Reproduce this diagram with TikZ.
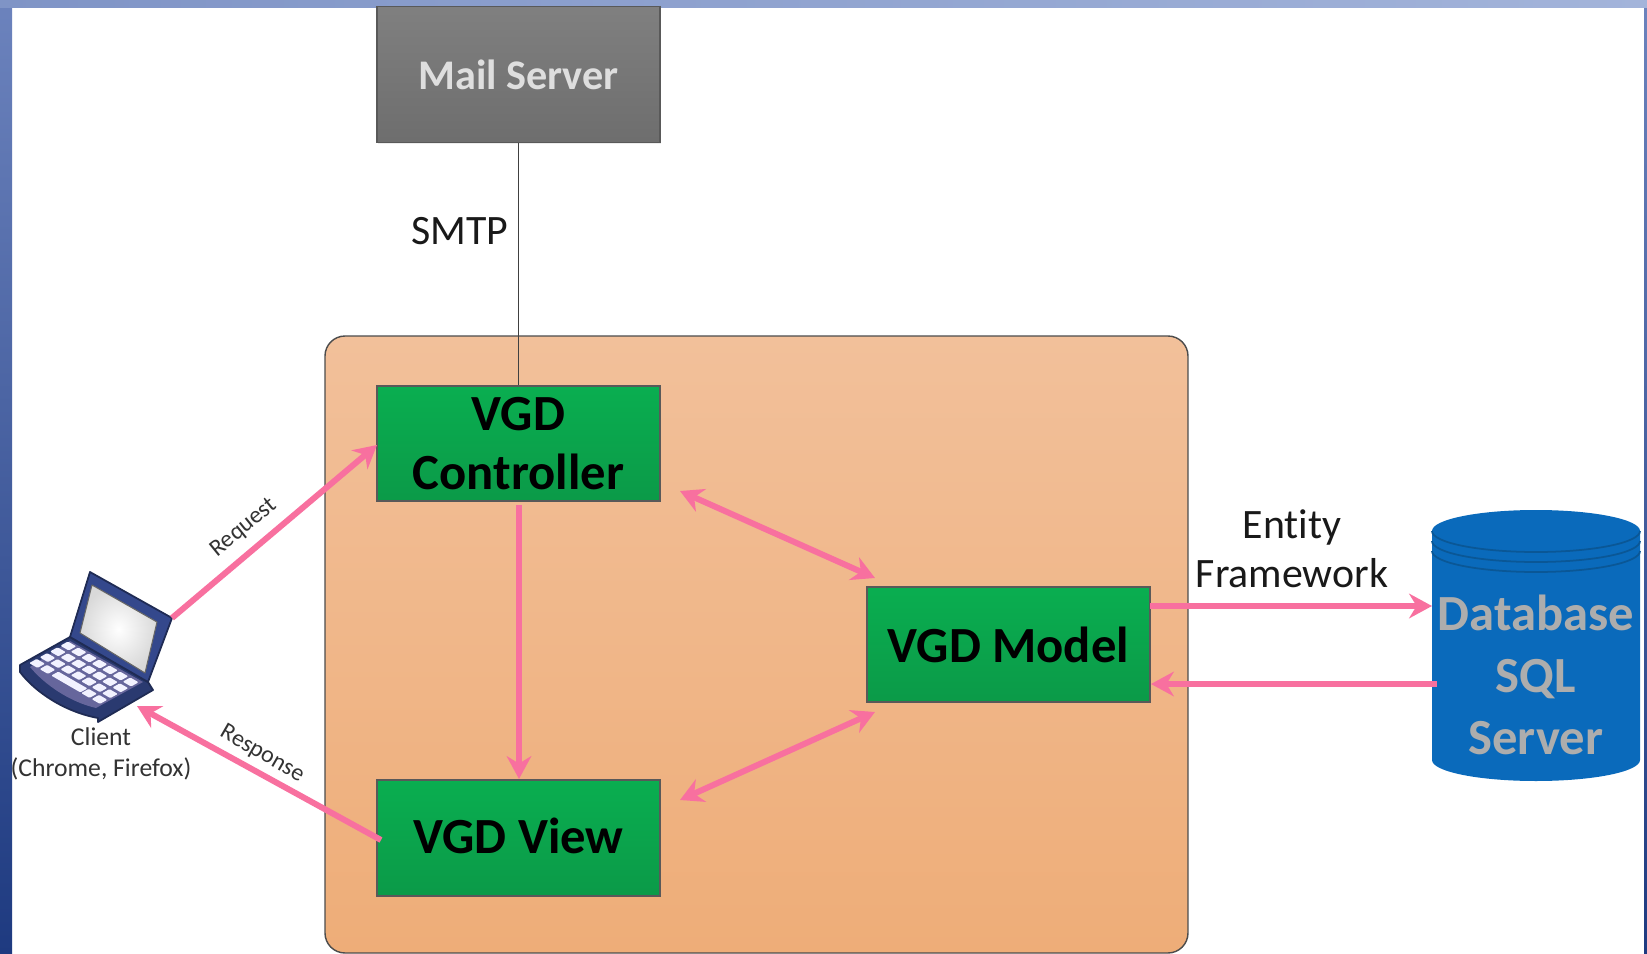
\documentclass[tikz,border=0pt]{standalone}
\usepackage{fontspec}
\setmainfont{Carlito}[Ligatures=NoCommon]
\usetikzlibrary{arrows.meta,shadows}
\definecolor{linkpink}{HTML}{F8709F}
\definecolor{greentop}{HTML}{0AAE50}
\definecolor{greenlow}{HTML}{0B9A48}
\definecolor{lapblue}{HTML}{34488C}
\definecolor{dbblue}{HTML}{0A6ABB}
\definecolor{dbedge}{HTML}{0A5796}
\definecolor{peachtop}{HTML}{F2C09A}
\definecolor{peachlow}{HTML}{EEAD78}
\definecolor{framehigh}{HTML}{6C83BD}
\definecolor{framelow}{HTML}{1E3A80}
\definecolor{stripleft}{HTML}{7F94C6}
\definecolor{stripright}{HTML}{A3B4DA}
\tikzset{
        unitbox/.style={draw=black!65, line width=0.5pt, minimum width=2.83cm, minimum height=1.16cm, inner sep=0pt, align=center,
                top color=greentop, bottom color=greenlow, drop shadow={opacity=0.15, shadow xshift=0.4pt, shadow yshift=-0.4pt},
                font=\fontsize{14.4}{16.8}\selectfont\bfseries},
        link/.style={linkpink, line width=1.7pt, -{Stealth[length=6.5pt,width=7pt]}},
        duallink/.style={link, {Stealth[length=6.5pt,width=7pt]}-{Stealth[length=6.5pt,width=7pt]}},
        tag/.style={font=\fontsize{11.9}{14}\selectfont, align=center, text=black!90},
        smalltag/.style={font=\fontsize{7.3}{8}\selectfont, text=black!80},
        keycap/.style={fill=blue!5!white, rounded corners=0.3pt},
}
\begin{document}
\begin{tikzpicture}[x=0.01cm, y=-0.01cm]
        \useasboundingbox (0,0) rectangle (1647,954);
        \fill[white] (0,0) rectangle (1647,954);
        \shade[top color=framehigh, bottom color=framelow] (0,0) rectangle (12,954);
        \shade[top color=framehigh, bottom color=framelow] (1644,0) rectangle (1647,954);
        \shade[left color=stripleft, right color=stripright] (0,0) rectangle (1647,7);

        \draw[draw=black!70, line width=0.4pt, rounded corners=0.2cm, top color=peachtop, bottom color=peachlow] (325,336) rectangle (1188,953);

        \node[unitbox, top color=black!50, bottom color=black!57, minimum height=1.36cm, font=\fontsize{12}{14}\selectfont\bfseries, text=black!13] (mail) at (518.5,74.5) {Mail Server};
        \node[unitbox, minimum height=1.15cm] (controller) at (518.5,443.5) {VGD\\Controller};
        \node[unitbox] (view) at (518.5,838) {\raisebox{1.5pt}{VGD View}};
        \node[unitbox, minimum height=1.15cm] (model) at (1008.5,644.5) {VGD Model};

        \fill[dbblue] (1432,531) arc[start angle=180, end angle=360, x radius=104, y radius=21] -- (1640,760) arc[start angle=0, end angle=180, x radius=104, y radius=21] -- cycle;
        \draw[dbedge, line width=0.5pt] (1432,531) arc[start angle=180, end angle=0, x radius=104, y radius=21]
                (1432,541) arc[start angle=180, end angle=0, x radius=104, y radius=21]
                (1432,551) arc[start angle=180, end angle=0, x radius=104, y radius=21];
        \node[font=\fontsize{14.4}{17.6}\selectfont\bfseries, text=black!32, align=center, inner sep=0pt, minimum width=2.08cm, minimum height=1.9cm] (db) at (1536,675) {Database\\SQL\\Server};

        \begin{scope}[line join=round]
                \fill[lapblue!80!black, draw=lapblue!60!black, line width=0.5pt] (20,665) -- (70,637) -- (148,682) -- (153,690) -- (98,722) -- (98,718) .. controls (65,712) and (35,692) .. (20,672) -- cycle;
                \fill[blue!35!black!60!white] (30,667) -- (70,641) -- (143,682) -- (96,708) .. controls (70,702) and (45,685) .. (30,667) -- cycle;
                \fill[lapblue, draw=lapblue!60!black, line width=0.5pt] (90,572) -- (172,618) -- (148,682) -- (70,637) -- cycle;
                \shade[inner color=white, outer color=black!15, draw=black!60, line width=0.3pt] (92,585) -- (157,622) -- (145,673) -- (80,633) -- cycle;
        \end{scope}
        \begin{scope}[cm={10.4,-6,10.4,5.8,(68.3,646)}]
                \foreach \i in {0,...,6}
                        \foreach \j in {0,1,2}
                                \fill[keycap] (\i-.4,\j-.36) rectangle (\i+.4,\j+.36);
                \foreach \i in {0,1,5,6}
                        \fill[keycap] (\i-.4,3-.36) rectangle (\i+.4,3+.36);
                \fill[keycap] (1.7,2.66) rectangle (4.5,3.34);
        \end{scope}
        \coordinate (lapTop) at (172,618);
        \coordinate (lapBottom) at (137,706);
        \node[smalltag, inner sep=0pt] (clientname) at (101,737) {Client};
        \node[smalltag, inner sep=0pt] (clientkind) at (101,769) {(Chrome, Firefox)};

        \coordinate (ctrlIn) at (377,445);
        \coordinate (viewOut) at (381,840);
        \coordinate (ctrlSide) at (680,491);
        \coordinate (modelTop) at (875,578);
        \coordinate (viewSide) at (680,800);
        \coordinate (modelLow) at (875,712);
        \coordinate (ctrlFoot) at (519,505);
        \coordinate (viewHead) at (519,779);
        \coordinate (modelOut) at (1150,606);
        \coordinate (dbIn) at (1432,606);
        \coordinate (dbOut) at (1437,684);
        \coordinate (modelIn) at (1151,684);

        \draw[black!75, line width=0.4pt] (mail.south) -- (controller.north);
        \draw[link] (lapTop) -- (ctrlIn);
        \draw[link] (viewOut) -- (lapBottom);
        \draw[duallink] (ctrlSide) -- (modelTop);
        \draw[duallink] (viewSide) -- (modelLow);
        \draw[link] (ctrlFoot) -- (viewHead);
        \draw[link] (modelOut) -- (dbIn);
        \draw[link] (dbOut) -- (modelIn);

        \node[smalltag, font=\fontsize{6.8}{8}\selectfont, rotate=39, inner sep=0pt] (request) at (244,528) {Request};
        \node[smalltag, font=\fontsize{6.8}{8}\selectfont, rotate=-30, inner sep=0pt] (response) at (262,754) {Response};
        \node[tag, inner sep=0pt] (smtp) at (460,231) {SMTP};
        \node[tag, inner sep=0pt] (entity) at (1292,549) {Entity\\Framework};
\end{tikzpicture}
\end{document}
